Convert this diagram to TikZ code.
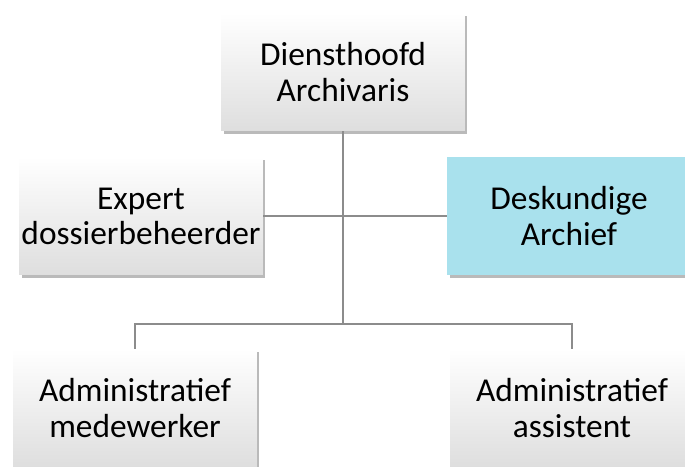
\documentclass[tikz,border=0pt]{standalone}
\usepackage{fontspec}
\setmainfont{Carlito}
\usepackage{tikz}
\usetikzlibrary{shadows}
\definecolor{boxgray}{RGB}{222, 222, 222}
\definecolor{deskblue}{RGB}{169, 225, 237}
\definecolor{linegray}{RGB}{140, 140, 140}
\tikzset{
  orgbox/.style = {rectangle, minimum width = 4.88cm, minimum height = 2.36cm,
    align = center, font = \fontsize{19}{20}\selectfont, inner sep = 0pt,
    top color = white, middle color = white!97!boxgray, bottom color = boxgray,
    drop shadow = {shadow xshift = 0.05cm, shadow yshift = -0.06cm, opacity = 0.45, fill = black!60}},
  bluebox/.style = {orgbox, top color = deskblue, middle color = deskblue, bottom color = deskblue},
  tie/.style = {draw = linegray, line width = 0.8pt}
}

\begin{document}
\begin{tikzpicture}[x = 0.02cm, y = -0.02cm]
\useasboundingbox (0,0) rectangle (685,466);
\clip (0,0) rectangle (685,466);
\node[orgbox] (head) at (343, 72) {Diensthoofd\\Archivaris};
\node[orgbox] (expert) at (141, 216) {Expert\\dossierbeheerder};
\node[bluebox] (desk) at (569, 216) {Deskundige\\Archief};
\node[orgbox] (admwerk) at (135, 408) {Administratief\\medewerker};
\node[orgbox] (admass) at (572, 408) {Administratief\\assistent};
\coordinate (hub) at (343, 324);
\draw[tie] (head.south) -- (hub);
\draw[tie] (expert.east) -- (desk.west);
\draw[tie] (admwerk.north) |- (hub) -| (admass.north);
\end{tikzpicture}
\end{document}
